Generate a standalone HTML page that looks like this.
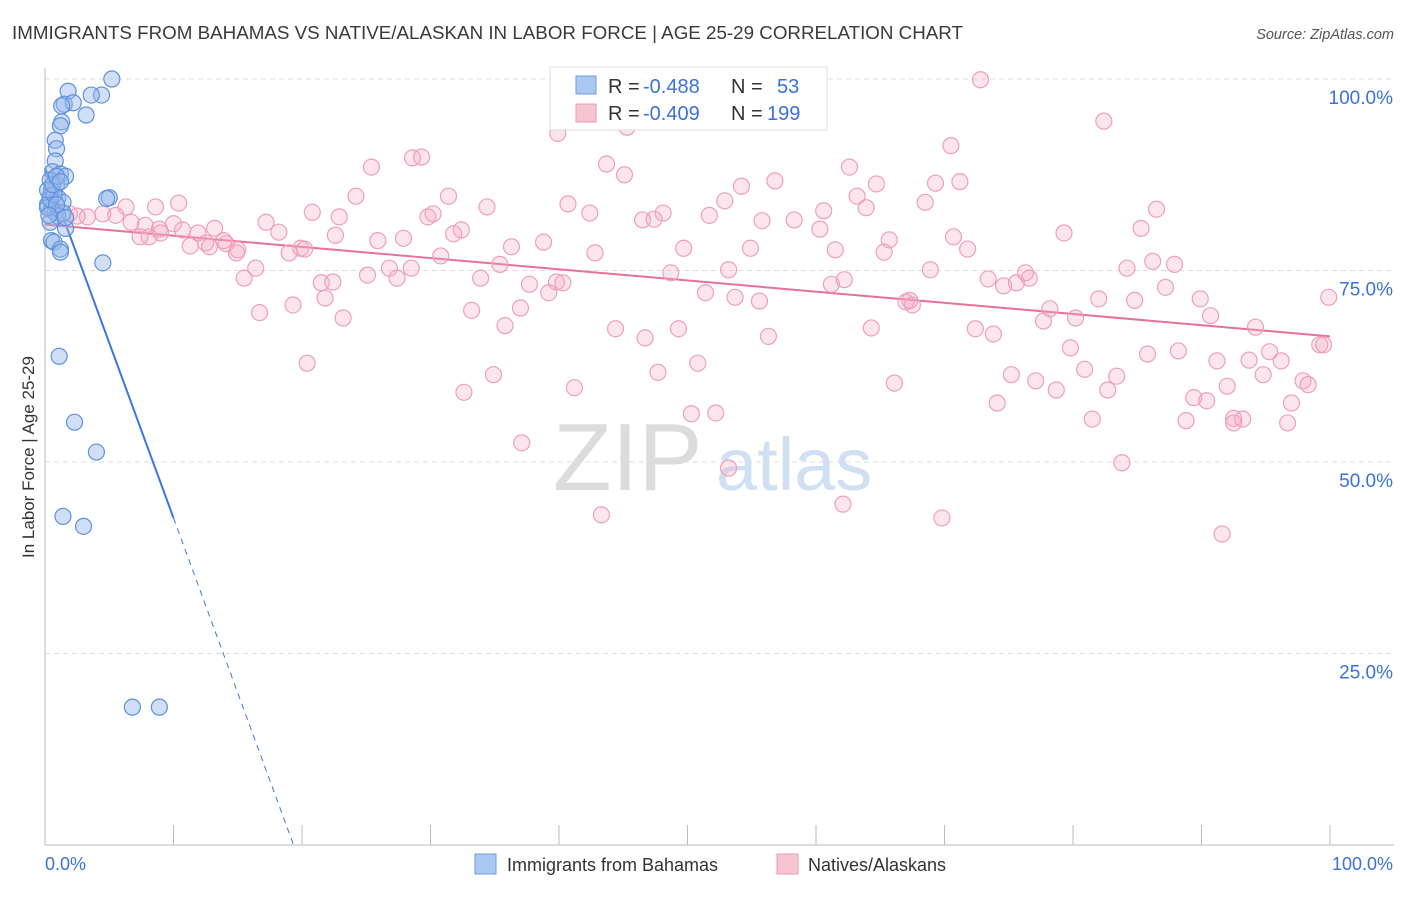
<!DOCTYPE html>
<html><head><meta charset="utf-8"><style>
body{margin:0;background:#fff;font-family:"Liberation Sans",sans-serif;}
svg text{font-family:"Liberation Sans",sans-serif;}
</style></head><body>
<svg id="chart" width="1406" height="892" viewBox="0 0 1406 892">
<text x="12" y="39" font-size="18" fill="#3a3a3a" textLength="951" lengthAdjust="spacingAndGlyphs">IMMIGRANTS FROM BAHAMAS VS NATIVE/ALASKAN IN LABOR FORCE | AGE 25-29 CORRELATION CHART</text>
<text x="1394" y="39" font-size="14.5" font-style="italic" fill="#555" text-anchor="end">Source: ZipAtlas.com</text>
<g><text x="553" y="490" font-size="96" font-family="Liberation Serif" fill="#dcdcdc">ZIP</text><text x="716" y="490" font-size="74" fill="#cfe0f3">atlas</text></g>
<g id="grid"></g><g id="axes"></g><g id="trends"></g><g id="pts"></g>
<text transform="translate(34,457) rotate(-90)" font-size="17" fill="#333" text-anchor="middle">In Labor Force | Age 25-29</text>
<g>
<rect x="550" y="67" width="277" height="63" fill="#fff" stroke="#ddd"/>
<rect x="576" y="76" width="20" height="18" fill="#aac8f0" stroke="#6e9fe0"/>
<rect x="576" y="104" width="20" height="18" fill="#f7c4d4" stroke="#eb9ab5"/>
<text x="608" y="93" font-size="20" fill="#333">R =</text><text x="643" y="93" font-size="20" fill="#3b72d8">-0.488</text>
<text x="731" y="93" font-size="20" fill="#333">N =</text><text x="777" y="93" font-size="20" fill="#3b72d8">53</text>
<text x="608" y="120" font-size="20" fill="#333">R =</text><text x="643" y="120" font-size="20" fill="#3b72d8">-0.409</text>
<text x="731" y="120" font-size="20" fill="#333">N =</text><text x="767" y="120" font-size="20" fill="#3b72d8">199</text>
</g>
<g>
<rect x="475" y="854" width="21" height="20" fill="#aac8f0" stroke="#6e9fe0"/>
<text x="507" y="871" font-size="18" fill="#333">Immigrants from Bahamas</text>
<rect x="777" y="854" width="21" height="20" fill="#f7c4d4" stroke="#eb9ab5"/>
<text x="808" y="871" font-size="18" fill="#333">Natives/Alaskans</text>
</g>
</svg>
<script>
const blueX=[5.2,1.8,4.4,3.6,1.5,2.2,1.3,3.2,1.3,1.2,0.8,0.9,0.8,0.6,1.2,1.6,0.4,0.9,0.5,1.0,0.4,1.4,5.0,4.8,0.2,0.5,0.8,1.4,1.0,0.4,1.6,0.5,0.7,1.2,1.2,4.5,1.1,2.3,4.0,1.4,3.0,6.8,8.9,0.2,0.4,0.7,0.9,0.2,0.6,0.3,1.6,0.9,1.2];
const blueY=[100,98.4,97.9,97.9,96.7,96.9,96.5,95.3,94.4,93.9,92.0,90.9,89.3,87.9,87.6,87.3,86.8,86.2,85.5,84.5,84.7,83.9,84.5,84.4,83.6,82.9,82.6,82.5,82.1,81.3,80.5,78.9,78.7,77.8,77.4,76.0,63.8,55.2,51.3,42.9,41.6,18.0,18.0,83.2,84.3,84.9,83.6,85.5,86.2,82.2,81.9,87.3,86.6];
const pinkX=[46.1,57.2,59.0,57.7,72.8,82.4,39.9,45.3,70.5,28.6,29.3,43.7,25.4,62.6,45.1,56.8,54.2,64.7,69.3,71.2,10.4,24.2,31.4,63.2,40.7,52.9,68.5,20.8,34.4,42.4,48.1,46.5,47.4,51.7,55.8,58.3,60.6,63.9,86.5,6.3,8.6,4.5,3.3,1.9,2.5,5.5,6.7,7.8,8.9,10.0,10.7,11.9,13.2,13.9,15.0,17.2,18.2,19.9,22.6,25.9,27.9,29.8,30.2,32.4,31.8,22.9,38.8,36.3,42.8,49.7,54.9,60.3,61.5,65.7,70.7,71.8,79.3,85.3,86.2,84.2,87.9,7.4,8.1,9.0,11.3,12.5,12.8,14.1,14.9,16.4,15.5,19.0,20.2,21.5,22.4,25.1,26.8,27.4,28.5,30.8,35.4,37.7,39.8,33.9,40.3,48.7,53.2,62.2,61.2,65.3,68.9,73.4,74.6,75.6,76.6,76.3,82.0,84.8,87.2,89.9,90.7,99.9,21.8,16.7,19.3,23.2,33.2,37.0,39.2,51.4,53.7,55.6,56.3,64.3,67.0,67.5,67.3,72.4,73.8,77.7,78.2,80.2,94.2,35.8,44.4,46.7,49.3,79.8,85.8,88.2,91.2,93.7,95.3,96.2,99.2,99.5,20.4,34.9,47.7,50.8,75.2,80.9,83.4,94.8,92.0,32.6,41.2,66.1,74.1,77.1,78.7,82.7,89.4,90.4,97.9,98.3,97.0,50.3,52.2,81.5,88.8,92.5,93.2,92.5,96.7,37.1,53.2,83.8,43.3,62.1,69.8,91.6];
const pinkY=[99.9,99.9,99.9,99.9,99.9,94.5,92.9,93.7,91.3,89.7,89.8,88.9,88.5,88.5,87.5,86.7,86.0,86.3,86.4,86.6,83.8,84.7,84.7,84.7,83.7,84.1,83.9,82.6,83.3,82.5,82.5,81.6,81.7,82.2,81.5,81.6,82.8,83.2,83.0,83.3,83.3,82.4,82.0,82.4,82.1,82.2,81.3,80.9,80.4,81.1,80.3,79.9,80.5,78.9,77.7,81.3,80.0,77.9,79.6,78.9,79.2,82.0,82.4,80.3,79.8,82.0,78.7,78.1,77.3,77.9,77.9,80.4,77.7,79.0,79.4,77.8,79.9,80.5,76.2,75.3,75.8,79.4,79.4,79.9,78.2,78.6,78.1,78.5,77.3,75.3,74.0,77.3,77.8,73.4,73.5,74.4,75.3,74.0,75.3,76.9,75.8,73.2,73.5,74.0,73.4,74.7,75.1,73.8,73.2,77.4,75.1,73.9,73.0,73.4,74.0,74.7,71.3,71.1,72.8,71.3,69.1,71.5,71.4,69.5,70.5,68.8,69.8,70.1,72.1,72.1,71.5,71.0,66.4,67.5,70.9,70.5,71.1,67.4,66.7,68.4,70.0,68.8,67.6,67.8,67.4,66.2,67.4,64.9,64.1,64.5,63.2,63.3,64.4,63.2,65.3,65.3,62.9,61.4,61.7,62.9,61.4,62.1,61.2,61.4,59.9,59.1,59.7,60.3,57.7,60.6,59.4,59.4,58.4,58.0,60.6,60.1,57.7,56.3,56.4,55.6,55.4,55.7,55.6,55.1,55.1,52.5,49.2,49.9,43.1,44.5,42.7,40.6];
const blueTrend=[88.4,-4.57]; // intercept, slope
const pinkTrend=[81.0,-0.146];
const yTicks=[25,50,75,100];
const yTickLabels=["25.0%","50.0%","75.0%","100.0%"];
const xTicks=[0,10,20,30,40,50,60,70,80,90,100];

const NS="http://www.w3.org/2000/svg";
const X0=45,X1=1330,Y0=845,Y1=79;
const sx=v=>X0+(X1-X0)*v/100, sy=v=>Y0-(Y0-Y1)*v/100;
function mk(tag,attrs,parent){const e=document.createElementNS(NS,tag);for(const k in attrs)e.setAttribute(k,attrs[k]);document.getElementById(parent).appendChild(e);return e;}
yTicks.forEach((t,i)=>{
 const g=mk('line',{x1:X0,x2:1394,y1:sy(t),y2:sy(t),stroke:'#ddd','stroke-dasharray':'5,4'},'grid');
 
 
 const l=mk('text',{x:1393,y:sy(t)+25,'font-size':19,fill:'#3b72d8','text-anchor':'end'},'grid');l.textContent=yTickLabels[i];
 
 
});
const a1=mk('line',{x1:X0,x2:X0,y1:68,y2:Y0,stroke:'#bbb'},'axes');


const a2=mk('line',{x1:X0,x2:1394,y1:Y0,y2:Y0,stroke:'#bbb'},'axes');


xTicks.forEach(t=>{if(t===0)return;const tk=mk('line',{x1:sx(t),x2:sx(t),y1:Y0-20,y2:Y0,stroke:'#bbb'},'axes');
 
 });
const xl0=mk('text',{x:45,y:870,'font-size':18,fill:'#3b72d8'},'axes');xl0.textContent='0.0%';


const xl1=mk('text',{x:1393,y:870,'font-size':18,fill:'#3b72d8','text-anchor':'end'},'axes');xl1.textContent='100.0%';



pinkX.forEach((x,i)=>{const c=mk('circle',{cx:sx(x),cy:sy(pinkY[i]),r:8,fill:'rgba(244,170,196,0.3)',stroke:'#eea0bb','stroke-width':1.2},'pts');
 
 });
blueX.forEach((x,i)=>{const c=mk('circle',{cx:sx(x),cy:sy(blueY[i]),r:8,fill:'rgba(150,185,235,0.45)',stroke:'#5e92dc','stroke-width':1.2},'pts');
 
 });

const bz=-blueTrend[0]/blueTrend[1];
const bl=mk('line',{x1:sx(0),y1:sy(blueTrend[0]),x2:sx(10),y2:sy(blueTrend[0]+10*blueTrend[1]),stroke:'#3b78dc','stroke-width':2},'trends');


const bd=mk('line',{x1:sx(10),y1:sy(blueTrend[0]+10*blueTrend[1]),x2:sx(bz),y2:sy(0),stroke:'#3b78dc','stroke-width':1,'stroke-dasharray':'6,5'},'trends');


const pl=mk('line',{x1:sx(0),y1:sy(pinkTrend[0]),x2:sx(100),y2:sy(pinkTrend[0]+100*pinkTrend[1]),stroke:'#e8709a','stroke-width':2},'trends');


</script>
</body></html>
